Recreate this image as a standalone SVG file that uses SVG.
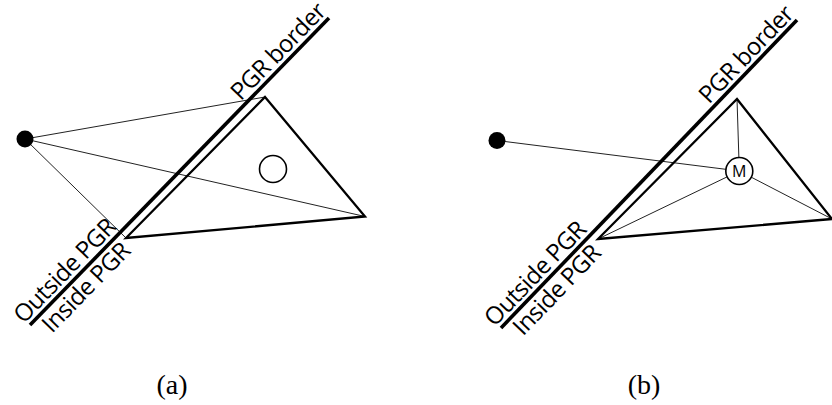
<svg xmlns="http://www.w3.org/2000/svg" width="832" height="405" viewBox="0 0 832 405">
<style>
.thin{stroke:#222;stroke-width:1;fill:none}
.tri{stroke:#000;stroke-width:2.3;fill:none;stroke-linejoin:miter}
.border{stroke:#000;stroke-width:3.6;fill:none}
.lbl{font-family:"Open Sans","DejaVu Sans",sans-serif;font-size:24px;letter-spacing:-0.6px;fill:#000}
.cap{font-family:"Liberation Serif","Times New Roman",serif;font-size:28px;fill:#000;text-anchor:middle}
.m{font-family:"Open Sans","DejaVu Sans",sans-serif;font-size:16px;fill:#000;text-anchor:middle}
</style>
<rect width="832" height="405" fill="#fff"/>
<g id="connectors">
<line class="thin" x1="25" y1="139" x2="265" y2="97"/>
<line class="thin" x1="25" y1="139" x2="365" y2="216.5"/>
<line class="thin" x1="25" y1="139" x2="126" y2="238"/>
<line class="thin" x1="497" y1="140.5" x2="739.3" y2="171"/>
<line class="thin" x1="739.3" y1="171" x2="737" y2="99"/>
<line class="thin" x1="739.3" y1="171" x2="598" y2="239"/>
<line class="thin" x1="739.3" y1="171" x2="832" y2="219"/>
</g>
<g id="panel-a">
<polygon id="triangle-a" class="tri" points="265,97 365,216.5 126,238"/>
<circle id="circle-a" cx="273" cy="169" r="13.5" fill="#fff" stroke="#000" stroke-width="1.6"/>
<circle id="point-a" cx="25" cy="139" r="8.5" fill="#000"/>
<line id="border-a" class="border" x1="30" y1="325" x2="329" y2="18"/>
<g transform="translate(30,325) rotate(-45.76)">
<text class="lbl" x="-4" y="-5">Outside PGR</text>
<text class="lbl" x="9" y="22">Inside PGR</text>
<text class="lbl" x="431" y="-5" text-anchor="end">PGR border</text>
</g>
</g>
<g id="panel-b">
<polygon id="triangle-b" class="tri" points="737,99 832,219 598,239"/>
<g id="node-M">
<circle cx="739.3" cy="171" r="13.5" fill="#fff" stroke="#000" stroke-width="1.6"/>
<text class="m" x="739.3" y="176.8">M</text>
</g>
<circle id="point-b" cx="497" cy="140.5" r="8.5" fill="#000"/>
<line id="border-b" class="border" x1="501" y1="328" x2="797" y2="20"/>
<g transform="translate(501,328) rotate(-46.1)">
<text class="lbl" x="-4" y="-5">Outside PGR</text>
<text class="lbl" x="9" y="22">Inside PGR</text>
<text class="lbl" x="429" y="-5" text-anchor="end">PGR border</text>
</g>
</g>
<text class="cap" x="172" y="394">(a)</text>
<text class="cap" x="644" y="394">(b)</text>
</svg>
